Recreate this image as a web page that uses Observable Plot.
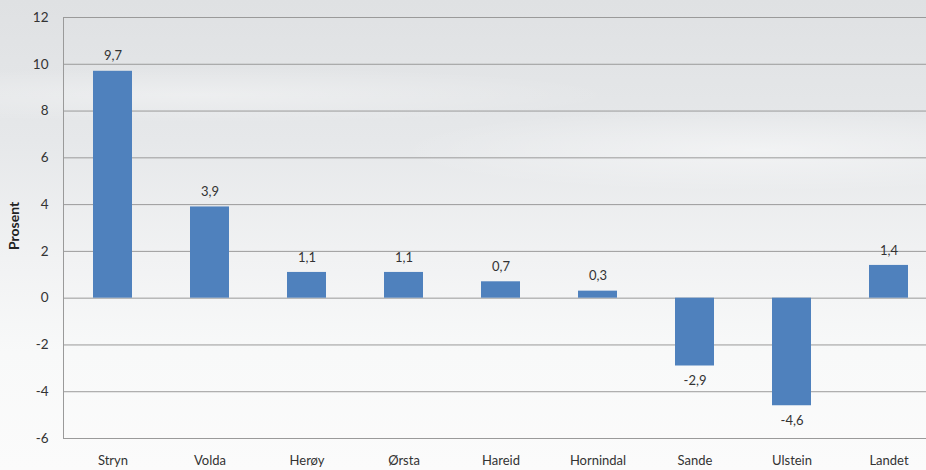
<!DOCTYPE html>
<html>
<head>
<meta charset="utf-8">
<script src="https://cdn.jsdelivr.net/npm/d3@7"></script>
<script src="https://cdn.jsdelivr.net/npm/@observablehq/plot@0.6"></script>
<style>
  html, body { margin: 0; padding: 0; }
  body {
    width: 926px; height: 470px; overflow: hidden;
    background:
      radial-gradient(ellipse 520px 60px at 760px 150px, rgba(255,255,255,0.45), rgba(255,255,255,0) 70%),
      radial-gradient(ellipse 600px 40px at 200px 95px, rgba(255,255,255,0.35), rgba(255,255,255,0) 70%),
      linear-gradient(180deg, #dfe1e3 0%, #e6e8ea 30%, #f1f2f3 55%, #f8f9f9 75%, #fbfbfb 100%);
  }
  #chart svg { display: block; background: transparent; }
</style>
</head>
<body>
<div id="chart"></div>
<script>
const categories = ["Stryn", "Volda", "Herøy", "Ørsta", "Hareid", "Hornindal", "Sande", "Ulstein", "Landet"];
const values = [9.7, 3.9, 1.1, 1.1, 0.7, 0.3, -2.9, -4.6, 1.4];
const yTicks = [-6, -4, -2, 0, 2, 4, 6, 8, 10, 12];
const yLabel = "Prosent";

const data = categories.map((c, i) => ({category: c, value: values[i]}));
const fmt = v => v.toFixed(1).replace(".", ",");

const chart = Plot.plot({
  width: 926,
  height: 470,
  marginTop: 17,
  marginBottom: 32,
  marginLeft: 63,
  marginRight: 0,
  style: {fontFamily: "Lato, 'Open Sans', sans-serif", fontSize: "13px", color: "#333", background: "transparent", overflow: "visible"},
  x: {domain: categories, range: [63, 937], paddingInner: 0.6, paddingOuter: 0.3, label: null},
  y: {domain: [-6, 12], ticks: yTicks, label: null},
  marks: [
    Plot.gridY(yTicks, {stroke: "#9a9a9a", strokeOpacity: 1, strokeWidth: 1}),
    Plot.frame({anchor: "left", stroke: "#9a9a9a"}),
    Plot.barY(data, {x: "category", y: "value", fill: "#4f81bd"}),
    Plot.text(data.filter(d => d.value >= 0), {x: "category", y: "value", text: d => fmt(d.value), dy: -15, textAnchor: "middle", fill: "#333"}),
    Plot.text(data.filter(d => d.value < 0), {x: "category", y: "value", text: d => fmt(d.value), dy: 15, textAnchor: "middle", fill: "#333"}),
    Plot.axisY({ticks: yTicks, tickSize: 0, tickPadding: 15, tickFormat: d => String(d), label: null, fontSize: 13.5}),
    Plot.axisX({tickSize: 0, tickPadding: 17, label: null}),
    Plot.text([yLabel], {frameAnchor: "left", dx: -49, dy: 22, rotate: -90, fontWeight: "bold", fontSize: 14, fill: "#222"})
  ]
});
document.getElementById("chart").appendChild(chart);
</script>
</body>
</html>
